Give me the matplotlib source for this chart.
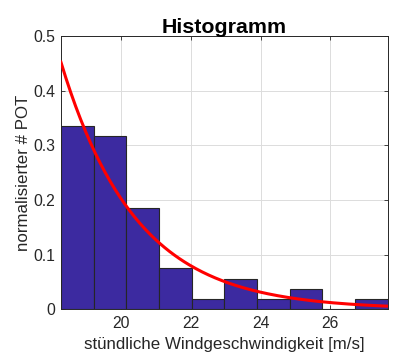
import matplotlib.pyplot as plt
import numpy as np

plt.rcParams['font.family'] = ['Liberation Sans', 'DejaVu Sans']

# bin edges (wind speed, m/s) and normalised counts
bin_lo = 18.26
bin_hi = 27.66
n_bins = 10
heights = [0.336, 0.317, 0.186, 0.075, 0.019, 0.055, 0.019, 0.037, 0.0, 0.019]

# fitted exponential tail (value at threshold, scale)
fit_amp = 0.452
fit_scale = 2.15

edges = np.linspace(bin_lo, bin_hi, n_bins + 1)
xf = np.linspace(bin_lo, bin_hi, 200)
yf = fit_amp * np.exp(-(xf - bin_lo) / fit_scale)

fig = plt.figure(figsize=(3.93, 3.58), dpi=100)
ax = fig.add_axes([0.155, 0.136, 0.832, 0.764])

ax.bar(edges[:-1], heights, width=np.diff(edges), align='edge',
       color='#3c2aa0', edgecolor='#262626', linewidth=0.8, zorder=2)
ax.plot(xf, yf, color='red', linewidth=2.2, zorder=3)

ax.set_xlim(bin_lo, bin_hi)
ax.set_ylim(0, 0.5)
ax.set_xticks([20, 22, 24, 26])
ax.set_yticks([0, 0.1, 0.2, 0.3, 0.4, 0.5])
ax.set_yticklabels(['0', '0.1', '0.2', '0.3', '0.4', '0.5'])
ax.grid(True, color='#dcdcdc', linewidth=0.7, zorder=0)
ax.set_axisbelow(True)
ax.tick_params(direction='in', top=True, right=True, labelsize=11.3,
               colors='#262626', length=3, width=0.6)
ax.tick_params(axis='x', pad=5)
ax.tick_params(axis='y', pad=4)
for s in ax.spines.values():
    s.set_color('#262626')
    s.set_linewidth(0.7)

ax.set_title('Histogramm', fontsize=15.4, fontweight='bold', pad=2)
ax.set_xlabel('stündliche Windgeschwindigkeit [m/s]', fontsize=12.2, color='#262626', labelpad=4)
ax.set_ylabel('normalisierter # POT', fontsize=12.2, color='#262626', labelpad=2)

fig.savefig('out.png', dpi=100)
